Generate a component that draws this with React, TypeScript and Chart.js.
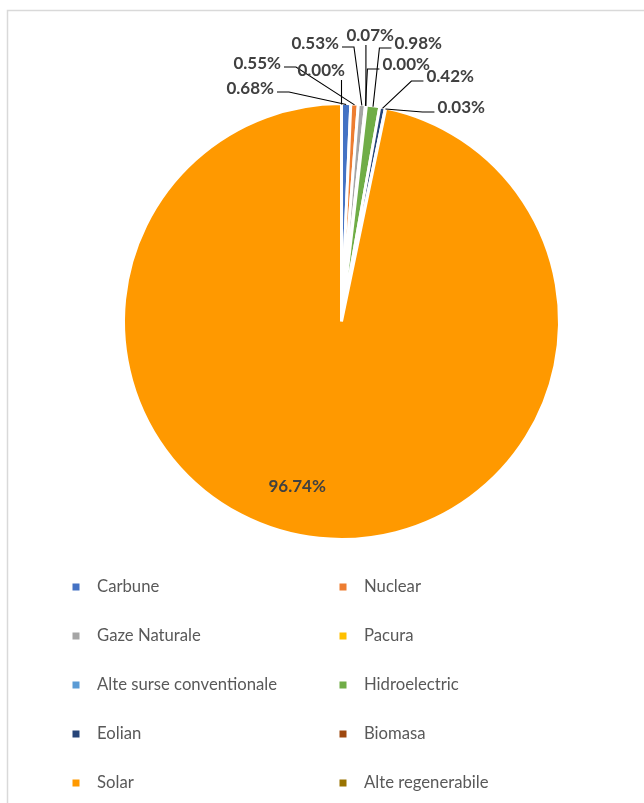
import { useEffect, useRef } from "react";
import { Chart, registerables } from "chart.js";

Chart.register(...registerables);

// ---- data ----
const categories = [
  "Carbune",
  "Nuclear",
  "Gaze Naturale",
  "Pacura",
  "Alte surse conventionale",
  "Hidroelectric",
  "Eolian",
  "Biomasa",
  "Solar",
  "Alte regenerabile",
];
const shares = [0.68, 0.55, 0.53, 0.0, 0.07, 0.98, 0.42, 0.03, 96.74, 0.0];
const percentLabels = shares.map((v) => v.toFixed(2) + "%");
const sliceColors = [
  "#4472C4",
  "#ED7D31",
  "#A5A5A5",
  "#FFC000",
  "#5B9BD5",
  "#70AD47",
  "#264478",
  "#9E480E",
  "#FF9900",
  "#997300",
];

// ---- layout (label placement relative to pie centre, legend grid) ----
type Attach = "r" | "l" | "b" | "none";
const labelLayout: { dx: number; dy: number; attach: Attach }[] = [
  { dx: -91.3, dy: -232.5, attach: "r" },
  { dx: -84.3, dy: -257.5, attach: "r" },
  { dx: -26.3, dy: -277.5, attach: "r" },
  { dx: 64.7, dy: -256.5, attach: "l" },
  { dx: 28.7, dy: -285.5, attach: "b" },
  { dx: 76.7, dy: -277.5, attach: "l" },
  { dx: 108.7, dy: -244.5, attach: "l" },
  { dx: 119.7, dy: -213.5, attach: "l" },
  { dx: -44.3, dy: 165.5, attach: "none" },
  { dx: -20.3, dy: -250.5, attach: "b" },
];
const legendLayout = {
  markerX: [76, 343],
  textX: [97, 364],
  rowY0: 587,
  rowStep: 49,
  marker: 7,
};

const labelFont = "bold 17px Lato, 'Liberation Sans', sans-serif";
const legendFont = "16.7px Lato, 'Liberation Sans', sans-serif";

const framePlugin = {
  id: "frame",
  beforeDraw(chart: any) {
    const ctx = chart.ctx;
    ctx.save();
    ctx.fillStyle = "#ffffff";
    ctx.fillRect(0, 0, chart.width, chart.height);
    ctx.strokeStyle = "#d9d9d9";
    ctx.lineWidth = 1.5;
    ctx.strokeRect(7.5, 10.5, chart.width + 50, chart.height + 50);
    ctx.restore();
  },
};

const labelPlugin = {
  id: "sliceLabels",
  afterDatasetsDraw(chart: any) {
    const ctx = chart.ctx;
    const meta = chart.getDatasetMeta(0);
    ctx.save();
    ctx.font = labelFont;
    ctx.textAlign = "center";
    ctx.textBaseline = "middle";
    meta.data.forEach((arc: any, i: number) => {
      const lay = labelLayout[i];
      const text = percentLabels[i];
      const cx = arc.x + lay.dx;
      const cy = arc.y + lay.dy;
      const w = ctx.measureText(text).width;
      const mid = (arc.startAngle + arc.endAngle) / 2;
      const r = arc.outerRadius - 1;
      const ax = arc.x + Math.cos(mid) * r;
      const ay = arc.y + Math.sin(mid) * r;
      ctx.strokeStyle = "#000000";
      ctx.lineWidth = 1.1;
      if (lay.attach === "r" || lay.attach === "l") {
        const sx = lay.attach === "r" ? cx + w / 2 + 3 : cx - w / 2 - 3;
        const sy = cy + (lay.attach === "r" ? 3 : 4);
        const ex = lay.attach === "r" ? sx + 12 : sx - 12;
        ctx.beginPath();
        ctx.moveTo(sx, sy);
        ctx.lineTo(ex, sy);
        ctx.lineTo(ax, ay);
        ctx.stroke();
      } else if (lay.attach === "b") {
        ctx.beginPath();
        ctx.moveTo(ax, cy + 9);
        ctx.lineTo(ax, ay);
        ctx.stroke();
      }
      ctx.fillStyle = "#404040";
      ctx.fillText(text, cx, cy);
    });
    ctx.restore();
  },
};

const legendPlugin = {
  id: "gridLegend",
  afterDraw(chart: any) {
    const ctx = chart.ctx;
    const labels: string[] = chart.data.labels;
    const colors: string[] = chart.data.datasets[0].backgroundColor;
    ctx.save();
    ctx.font = legendFont;
    ctx.textBaseline = "middle";
    ctx.textAlign = "left";
    labels.forEach((lab, i) => {
      const col = i % 2;
      const row = Math.floor(i / 2);
      const y = legendLayout.rowY0 + row * legendLayout.rowStep;
      const m = legendLayout.marker;
      ctx.fillStyle = colors[i];
      ctx.fillRect(legendLayout.markerX[col] - m / 2, y - m / 2, m, m);
      ctx.fillStyle = "#595959";
      ctx.fillText(lab, legendLayout.textX[col], y);
    });
    ctx.restore();
  },
};

export default function App() {
  const ref = useRef<HTMLCanvasElement | null>(null);
  useEffect(() => {
    document.body.style.margin = "0";
    document.documentElement.style.overflow = "hidden";
    if (!ref.current) return;
    const chart = new Chart(ref.current, {
      type: "pie",
      data: {
        labels: categories,
        datasets: [
          {
            data: shares,
            backgroundColor: sliceColors,
            borderColor: "#ffffff",
            borderWidth: 3,
          },
        ],
      },
      options: {
        responsive: false,
        animation: false,
        layout: { padding: { left: 122, top: 102, right: 83, bottom: 262 } },
        plugins: {
          legend: { display: false },
          tooltip: { enabled: false },
        },
      },
      plugins: [framePlugin, labelPlugin, legendPlugin],
    });
    return () => chart.destroy();
  }, []);
  return (
    <div style={{ width: 644, height: 803, overflow: "hidden" }}>
      <canvas ref={ref} width={644} height={803} style={{ display: "block" }} />
    </div>
  );
}
